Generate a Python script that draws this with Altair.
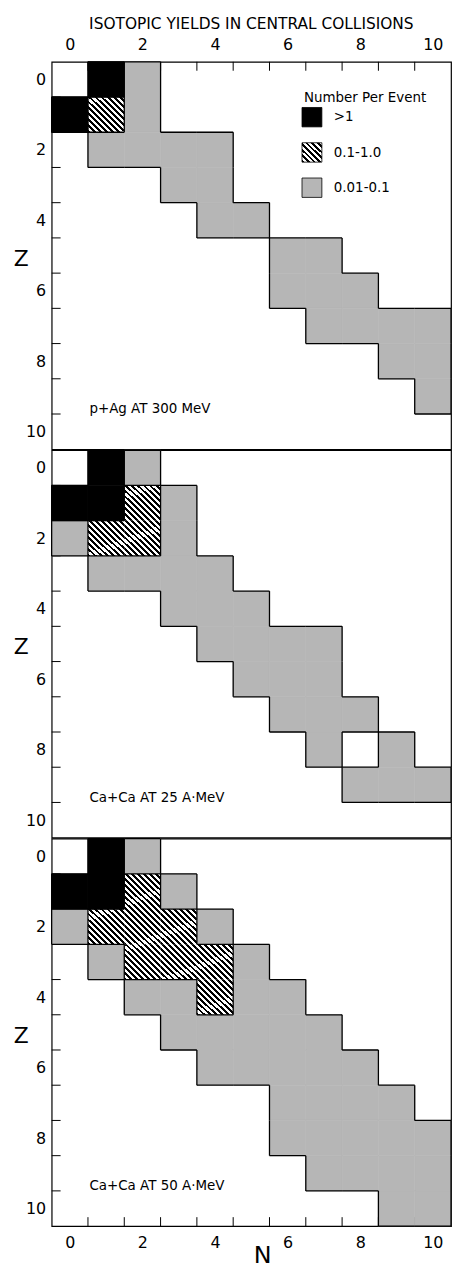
import altair as alt
import pandas as pd

# ---------------- data ----------------
N_LABELS = [0, 2, 4, 6, 8, 10]
Z_LABELS = [0, 2, 4, 6, 8, 10]
CELL_BOUNDARIES = [0.5, 1.5, 2.5, 3.5, 4.5, 5.5, 6.5, 7.5, 8.5, 9.5]

CATEGORIES = [">1", "0.1-1.0", "0.01-0.1"]
PANEL_LABELS = ["p+Ag AT 300 MeV", "Ca+Ca AT 25 A\u00b7MeV", "Ca+Ca AT 50 A\u00b7MeV"]

# (N, Z) pairs per category
P1_BLACK = [(1, 0), (0, 1)]
P1_HATCH = [(1, 1)]
P1_GRAY = [(2, 0), (2, 1), (1, 2), (2, 2), (3, 2), (4, 2), (3, 3), (4, 3),
           (4, 4), (5, 4), (6, 5), (7, 5), (6, 6), (7, 6), (8, 6),
           (7, 7), (8, 7), (9, 7), (10, 7), (9, 8), (10, 8), (10, 9)]

P2_BLACK = [(1, 0), (0, 1), (1, 1)]
P2_HATCH = [(2, 1), (1, 2), (2, 2)]
P2_GRAY = [(2, 0), (3, 1), (0, 2), (3, 2), (1, 3), (2, 3), (3, 3), (4, 3),
           (3, 4), (4, 4), (5, 4), (4, 5), (5, 5), (6, 5), (7, 5),
           (5, 6), (6, 6), (7, 6), (6, 7), (7, 7), (8, 7), (7, 8), (9, 8),
           (8, 9), (9, 9), (10, 9)]

P3_BLACK = [(1, 0), (0, 1), (1, 1)]
P3_HATCH = [(2, 1), (1, 2), (2, 2), (3, 2), (2, 3), (3, 3), (4, 3), (4, 4)]
P3_GRAY = [(2, 0), (3, 1), (0, 2), (4, 2), (1, 3), (5, 3), (2, 4), (3, 4),
           (5, 4), (6, 4), (3, 5), (4, 5), (5, 5), (6, 5), (7, 5),
           (4, 6), (5, 6), (6, 6), (7, 6), (8, 6), (6, 7), (7, 7), (8, 7), (9, 7),
           (6, 8), (7, 8), (8, 8), (9, 8), (10, 8), (7, 9), (8, 9), (9, 9), (10, 9),
           (9, 10), (10, 10)]

PANELS = [
    {">1": P1_BLACK, "0.1-1.0": P1_HATCH, "0.01-0.1": P1_GRAY},
    {">1": P2_BLACK, "0.1-1.0": P2_HATCH, "0.01-0.1": P2_GRAY},
    {">1": P3_BLACK, "0.1-1.0": P3_HATCH, "0.01-0.1": P3_GRAY},
]

# ---------------- styles ----------------
W, H = 402, 390
FONT = "DejaVu Sans"
GRAY = "#b6b6b6"


def stripes(periods, frac=0.48):
    stops = []
    for k in range(periods):
        a = k / periods
        b = (k + frac) / periods
        c = (k + 1) / periods
        stops += [alt.GradientStop(color="black", offset=a),
                  alt.GradientStop(color="black", offset=b),
                  alt.GradientStop(color="white", offset=b),
                  alt.GradientStop(color="white", offset=c)]
    return alt.LinearGradient(gradient="linear", stops=stops, x1=0, y1=1, x2=1, y2=0)


HATCH = stripes(12)
HATCH_SMALL = stripes(7)
FILLS = {">1": "black", "0.1-1.0": HATCH, "0.01-0.1": GRAY}
LEGEND_FILLS = {">1": "black", "0.1-1.0": HATCH_SMALL, "0.01-0.1": GRAY}

xscale = alt.Scale(domain=[-0.5, 10.5], nice=False, zero=False)
yscale = alt.Scale(domain=[-0.5, 10.5], reverse=True, nice=False, zero=False)

yaxis = alt.Axis(values=Z_LABELS, ticks=False, domain=False, grid=False,
                 labelFontSize=16, labelPadding=6, labelFont=FONT, labelColor="black",
                 title="Z", titleAngle=0, titleFontSize=22, titleFontWeight="normal",
                 titleFont=FONT, titleColor="black", titleX=-31, titleY=198,
                 titleAlign="center", titleBaseline="middle")


def xaxis_for(i):
    common = dict(values=N_LABELS, ticks=False, domain=False, grid=False,
                  labelFontSize=16, labelFont=FONT, labelColor="black", labelPadding=9)
    if i == 0:
        return alt.Axis(orient="top", title=None, **common)
    if i == 2:
        return alt.Axis(orient="bottom", title="N", titleFontSize=24,
                        titleFontWeight="normal", titleFont=FONT, titleColor="black",
                        titleX=212, titleY=37, titleBaseline="alphabetic",
                        titleAlign="center", **common)
    return None


def cell_frame(cells):
    rows = []
    for cat, lst in cells.items():
        for n, z in lst:
            rows.append({"N": n, "Z": z, "cat": cat})
    return pd.DataFrame(rows)


def edge_frame(cells):
    lookup = {}
    for cat, lst in cells.items():
        for n, z in lst:
            lookup[(n, z)] = cat
    edges = set()
    for (n, z), cat in lookup.items():
        for dn, dz in [(1, 0), (-1, 0), (0, 1), (0, -1)]:
            if lookup.get((n + dn, z + dz)) != cat:
                if dn != 0:
                    xe = n + dn * 0.5
                    edges.add((xe, xe, z - 0.5, z + 0.5))
                else:
                    ye = z + dz * 0.5
                    edges.add((n - 0.5, n + 0.5, ye, ye))
    return pd.DataFrame(sorted(edges), columns=["ex0", "ex1", "ey0", "ey1"])


def panel(i):
    cells = PANELS[i]
    xa = xaxis_for(i)
    layers = []
    bdf = pd.DataFrame({"b": CELL_BOUNDARIES})
    # inward ticks on the Z axis
    layers.append(alt.Chart(bdf).mark_rule(color="black", strokeWidth=1).encode(
        y=alt.Y("b:Q", scale=yscale, axis=yaxis), x=alt.value(0), x2=alt.value(9)))
    # inward ticks on the N axis
    if i == 0:
        layers.append(alt.Chart(bdf).mark_rule(color="black", strokeWidth=1).encode(
            x=alt.X("b:Q", scale=xscale, axis=xa), y=alt.value(0), y2=alt.value(9)))
    if i == 2:
        layers.append(alt.Chart(bdf).mark_rule(color="black", strokeWidth=1).encode(
            x=alt.X("b:Q", scale=xscale, axis=xa), y=alt.value(H - 9), y2=alt.value(H)))
    cdf = cell_frame(cells)
    for cat in ["0.01-0.1", "0.1-1.0", ">1"]:
        fill = FILLS[cat]
        kw = dict(fill=fill)
        if isinstance(fill, str):
            kw.update(stroke=fill, strokeWidth=0.6)
        layers.append(alt.Chart(cdf[cdf["cat"] == cat]).mark_rect(**kw).transform_calculate(
            x0="datum.N - 0.5", x1="datum.N + 0.5", y0="datum.Z - 0.5", y1="datum.Z + 0.5"
        ).encode(
            x=alt.X("x0:Q", scale=xscale, axis=xa), x2="x1:Q",
            y=alt.Y("y0:Q", scale=yscale, axis=yaxis), y2="y1:Q"))
    edf = edge_frame(cells)
    layers.append(alt.Chart(edf).mark_rule(color="black", strokeWidth=1.3).encode(
        x=alt.X("ex0:Q", scale=xscale, axis=xa), x2="ex1:Q",
        y=alt.Y("ey0:Q", scale=yscale, axis=yaxis), y2="ey1:Q"))
    ldf = pd.DataFrame({"label": [PANEL_LABELS[i]]})
    layers.append(alt.Chart(ldf).mark_text(align="left", baseline="middle", fontSize=13.5,
                                           font=FONT, color="black").encode(
        text="label:N", x=alt.value(38), y=alt.value(350)))
    if i == 0:
        tdf = pd.DataFrame({"t": ["Number Per Event"]})
        layers.append(alt.Chart(tdf).mark_text(align="left", baseline="middle", fontSize=13.5,
                                               font=FONT, color="black").encode(
            text="t:N", x=alt.value(254), y=alt.value(36)))
        for k, cat in enumerate(CATEGORIES):
            sdf = pd.DataFrame({"label": [cat]})
            top = 46 + k * 35.5
            layers.append(alt.Chart(sdf).mark_rect(fill=LEGEND_FILLS[cat], stroke="black",
                                                   strokeWidth=0.8).encode(
                x=alt.value(252), x2=alt.value(272), y=alt.value(top), y2=alt.value(top + 19.5)))
            layers.append(alt.Chart(sdf).mark_text(align="left", baseline="middle", fontSize=13.5,
                                                   font=FONT, color="black").encode(
                text="label:N", x=alt.value(284), y=alt.value(top + 10)))
    ch = alt.layer(*layers).properties(width=W, height=H)
    if i == 0:
        ch = ch.properties(title=alt.TitleParams(
            "ISOTOPIC YIELDS IN CENTRAL COLLISIONS", fontSize=15.5, font=FONT,
            fontWeight="normal", anchor="middle", frame="group", offset=5, color="black"))
    return ch


chart = alt.vconcat(panel(0), panel(1), panel(2), spacing=-2).properties(
    padding={"top": 11, "left": 12, "right": 1, "bottom": 0},
    background="white",
).configure_view(stroke="black", strokeWidth=1.2)

chart.save("out.html", embed_options={"renderer": "svg", "actions": False})
